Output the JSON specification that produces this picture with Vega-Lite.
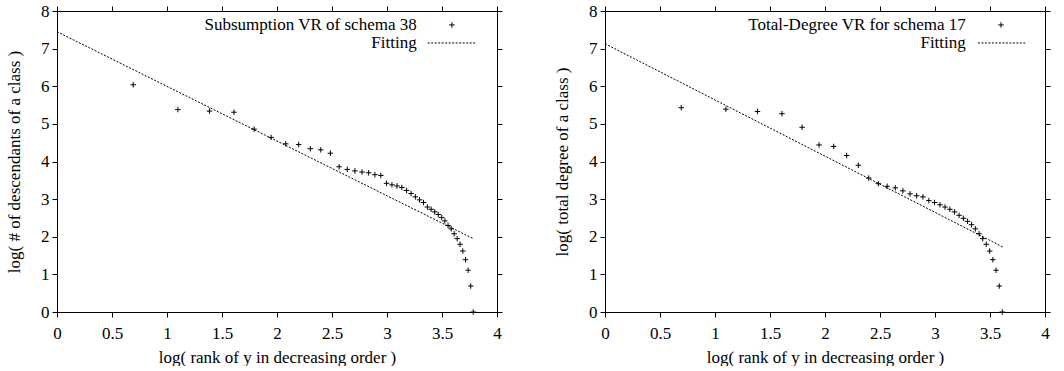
{
  "$schema": "https://vega.github.io/schema/vega-lite/v6.json",
  "padding": {"left": 5, "top": 1, "right": 0, "bottom": 0},
  "spacing": 50,
  "datasets": {
    "s38": [
      {"x": 0.693, "y": 6.04}, {"x": 1.099, "y": 5.38}, {"x": 1.386, "y": 5.34}, {"x": 1.609, "y": 5.31},
      {"x": 1.792, "y": 4.86}, {"x": 1.946, "y": 4.64}, {"x": 2.079, "y": 4.47}, {"x": 2.197, "y": 4.45},
      {"x": 2.303, "y": 4.34}, {"x": 2.398, "y": 4.31}, {"x": 2.485, "y": 4.22}, {"x": 2.565, "y": 3.86},
      {"x": 2.639, "y": 3.79}, {"x": 2.708, "y": 3.75}, {"x": 2.773, "y": 3.72}, {"x": 2.833, "y": 3.70},
      {"x": 2.890, "y": 3.65}, {"x": 2.944, "y": 3.63}, {"x": 2.996, "y": 3.42}, {"x": 3.045, "y": 3.38},
      {"x": 3.091, "y": 3.35}, {"x": 3.135, "y": 3.31}, {"x": 3.178, "y": 3.23}, {"x": 3.219, "y": 3.15},
      {"x": 3.258, "y": 3.06}, {"x": 3.296, "y": 2.98}, {"x": 3.332, "y": 2.91}, {"x": 3.367, "y": 2.79},
      {"x": 3.401, "y": 2.73}, {"x": 3.434, "y": 2.66}, {"x": 3.466, "y": 2.59}, {"x": 3.497, "y": 2.51},
      {"x": 3.526, "y": 2.42}, {"x": 3.555, "y": 2.30}, {"x": 3.584, "y": 2.21}, {"x": 3.611, "y": 2.08},
      {"x": 3.638, "y": 1.95}, {"x": 3.664, "y": 1.80}, {"x": 3.689, "y": 1.62}, {"x": 3.714, "y": 1.39},
      {"x": 3.738, "y": 1.11}, {"x": 3.761, "y": 0.69}, {"x": 3.784, "y": 0}
    ],
    "fit38": [{"x": 0, "y": 7.45}, {"x": 3.784, "y": 1.95}],
    "t17": [
      {"x": 0.693, "y": 5.43}, {"x": 1.099, "y": 5.39}, {"x": 1.386, "y": 5.33}, {"x": 1.609, "y": 5.27},
      {"x": 1.792, "y": 4.91}, {"x": 1.946, "y": 4.44}, {"x": 2.079, "y": 4.40}, {"x": 2.197, "y": 4.16},
      {"x": 2.303, "y": 3.90}, {"x": 2.398, "y": 3.56}, {"x": 2.485, "y": 3.41}, {"x": 2.565, "y": 3.34},
      {"x": 2.639, "y": 3.30}, {"x": 2.708, "y": 3.22}, {"x": 2.773, "y": 3.14}, {"x": 2.833, "y": 3.09},
      {"x": 2.890, "y": 3.06}, {"x": 2.944, "y": 2.96}, {"x": 2.996, "y": 2.91}, {"x": 3.045, "y": 2.85},
      {"x": 3.091, "y": 2.79}, {"x": 3.135, "y": 2.73}, {"x": 3.178, "y": 2.66}, {"x": 3.219, "y": 2.57},
      {"x": 3.258, "y": 2.49}, {"x": 3.296, "y": 2.41}, {"x": 3.332, "y": 2.32}, {"x": 3.367, "y": 2.21},
      {"x": 3.401, "y": 2.08}, {"x": 3.434, "y": 1.95}, {"x": 3.466, "y": 1.80}, {"x": 3.497, "y": 1.62},
      {"x": 3.526, "y": 1.39}, {"x": 3.555, "y": 1.11}, {"x": 3.584, "y": 0.69}, {"x": 3.611, "y": 0}
    ],
    "fit17": [{"x": 0, "y": 7.13}, {"x": 3.615, "y": 1.73}],
    "one": [{}]
  },
  "hconcat": [
    {
      "width": 440, "height": 301,
      "view": {"stroke": "black", "strokeWidth": 1},
      "layer": [
        {
          "data": {"name": "s38"},
          "mark": {"type": "point", "shape": "M-1,0L1,0M0,-1L0,1", "size": 30, "filled": false, "stroke": "black", "strokeWidth": 1, "opacity": 1},
          "encoding": {
            "x": {"field": "x", "type": "quantitative", "scale": {"domain": [0, 4], "nice": false},
                  "axis": {"values": [0, 0.5, 1, 1.5, 2, 2.5, 3, 3.5, 4], "format": "~g", "grid": false, "ticks": true, "tickSize": 5, "tickColor": "black", "domain": false, "labelFont": "Liberation Serif", "labelFontSize": 17, "labelColor": "black", "labelPadding": 8, "labelFlush": false,
                           "encode": {"ticks": {"enter": {"y2": {"value": -5}}, "update": {"y2": {"value": -5}}}},
                           "title": "log( rank of y in decreasing order )", "titleFont": "Liberation Serif", "titleFontSize": 17, "titleFontWeight": "normal", "titleColor": "black", "titlePadding": 8}},
            "y": {"field": "y", "type": "quantitative", "scale": {"domain": [0, 8], "nice": false},
                  "axis": {"values": [0, 1, 2, 3, 4, 5, 6, 7, 8], "format": "d", "grid": false, "ticks": true, "tickSize": 5, "tickColor": "black", "domain": false, "labelFont": "Liberation Serif", "labelFontSize": 17, "labelColor": "black", "labelPadding": 3, "labelFlush": false,
                           "encode": {"ticks": {"enter": {"x2": {"value": 5}}, "update": {"x2": {"value": 5}}}},
                           "title": "log( # of descendants of a class )", "titleFont": "Liberation Serif", "titleFontSize": 17, "titleFontWeight": "normal", "titleColor": "black", "titlePadding": 17}}
          }
        },
        {
          "data": {"name": "fit38"},
          "mark": {"type": "line", "stroke": "black", "strokeWidth": 1, "strokeDash": [2, 1.5]},
          "encoding": {
            "x": {"field": "x", "type": "quantitative",
                  "axis": {"orient": "top", "values": [0, 0.5, 1, 1.5, 2, 2.5, 3, 3.5, 4], "grid": false, "ticks": true, "tickSize": 5, "tickColor": "black", "labels": false, "domain": false, "title": null,
                           "encode": {"ticks": {"enter": {"y2": {"value": 5}}, "update": {"y2": {"value": 5}}}}}},
            "y": {"field": "y", "type": "quantitative",
                  "axis": {"orient": "right", "values": [0, 1, 2, 3, 4, 5, 6, 7, 8], "grid": false, "ticks": true, "tickSize": 5, "tickColor": "black", "labels": false, "domain": false, "title": null,
                           "encode": {"ticks": {"enter": {"x2": {"value": -5}}, "update": {"x2": {"value": -5}}}}}}
          }
        },
        {
          "data": {"name": "one"},
          "mark": {"type": "text", "align": "right", "baseline": "middle", "fontSize": 17, "font": "Liberation Serif", "color": "black"},
          "encoding": {"x": {"datum": 3.27, "type": "quantitative", "axis": null}, "y": {"datum": 7.63, "type": "quantitative", "axis": null}, "text": {"value": "Subsumption VR of schema 38"}}
        },
        {
          "data": {"name": "one"},
          "mark": {"type": "text", "align": "right", "baseline": "middle", "fontSize": 17, "font": "Liberation Serif", "color": "black"},
          "encoding": {"x": {"datum": 3.27, "type": "quantitative", "axis": null}, "y": {"datum": 7.15, "type": "quantitative", "axis": null}, "text": {"value": "Fitting"}}
        },
        {
          "data": {"name": "one"},
          "mark": {"type": "point", "shape": "M-1,0L1,0M0,-1L0,1", "size": 30, "filled": false, "stroke": "black", "strokeWidth": 1, "opacity": 1},
          "encoding": {"x": {"datum": 3.59, "type": "quantitative", "axis": null}, "y": {"datum": 7.63, "type": "quantitative", "axis": null}}
        },
        {
          "data": {"name": "one"},
          "mark": {"type": "rule", "stroke": "black", "strokeWidth": 1, "strokeDash": [2, 1.5]},
          "encoding": {"x": {"datum": 3.37, "type": "quantitative", "axis": null}, "x2": {"datum": 3.8}, "y": {"datum": 7.15, "type": "quantitative", "axis": null}}
        }
      ],
      "resolve": {"axis": {"x": "independent", "y": "independent"}}
    },
    {
      "width": 440, "height": 301,
      "view": {"stroke": "black", "strokeWidth": 1},
      "layer": [
        {
          "data": {"name": "t17"},
          "mark": {"type": "point", "shape": "M-1,0L1,0M0,-1L0,1", "size": 30, "filled": false, "stroke": "black", "strokeWidth": 1, "opacity": 1},
          "encoding": {
            "x": {"field": "x", "type": "quantitative", "scale": {"domain": [0, 4], "nice": false},
                  "axis": {"values": [0, 0.5, 1, 1.5, 2, 2.5, 3, 3.5, 4], "format": "~g", "grid": false, "ticks": true, "tickSize": 5, "tickColor": "black", "domain": false, "labelFont": "Liberation Serif", "labelFontSize": 17, "labelColor": "black", "labelPadding": 8, "labelFlush": false,
                           "encode": {"ticks": {"enter": {"y2": {"value": -5}}, "update": {"y2": {"value": -5}}}},
                           "title": "log( rank of y in decreasing order )", "titleFont": "Liberation Serif", "titleFontSize": 17, "titleFontWeight": "normal", "titleColor": "black", "titlePadding": 8}},
            "y": {"field": "y", "type": "quantitative", "scale": {"domain": [0, 8], "nice": false},
                  "axis": {"values": [0, 1, 2, 3, 4, 5, 6, 7, 8], "format": "d", "grid": false, "ticks": true, "tickSize": 5, "tickColor": "black", "domain": false, "labelFont": "Liberation Serif", "labelFontSize": 17, "labelColor": "black", "labelPadding": 3, "labelFlush": false,
                           "encode": {"ticks": {"enter": {"x2": {"value": 5}}, "update": {"x2": {"value": 5}}}},
                           "title": "log( total degree of a class )", "titleFont": "Liberation Serif", "titleFontSize": 17, "titleFontWeight": "normal", "titleColor": "black", "titlePadding": 17}}
          }
        },
        {
          "data": {"name": "fit17"},
          "mark": {"type": "line", "stroke": "black", "strokeWidth": 1, "strokeDash": [2, 1.5]},
          "encoding": {
            "x": {"field": "x", "type": "quantitative",
                  "axis": {"orient": "top", "values": [0, 0.5, 1, 1.5, 2, 2.5, 3, 3.5, 4], "grid": false, "ticks": true, "tickSize": 5, "tickColor": "black", "labels": false, "domain": false, "title": null,
                           "encode": {"ticks": {"enter": {"y2": {"value": 5}}, "update": {"y2": {"value": 5}}}}}},
            "y": {"field": "y", "type": "quantitative",
                  "axis": {"orient": "right", "values": [0, 1, 2, 3, 4, 5, 6, 7, 8], "grid": false, "ticks": true, "tickSize": 5, "tickColor": "black", "labels": false, "domain": false, "title": null,
                           "encode": {"ticks": {"enter": {"x2": {"value": -5}}, "update": {"x2": {"value": -5}}}}}}
          }
        },
        {
          "data": {"name": "one"},
          "mark": {"type": "text", "align": "right", "baseline": "middle", "fontSize": 17, "font": "Liberation Serif", "color": "black"},
          "encoding": {"x": {"datum": 3.28, "type": "quantitative", "axis": null}, "y": {"datum": 7.63, "type": "quantitative", "axis": null}, "text": {"value": "Total-Degree VR for schema 17"}}
        },
        {
          "data": {"name": "one"},
          "mark": {"type": "text", "align": "right", "baseline": "middle", "fontSize": 17, "font": "Liberation Serif", "color": "black"},
          "encoding": {"x": {"datum": 3.28, "type": "quantitative", "axis": null}, "y": {"datum": 7.15, "type": "quantitative", "axis": null}, "text": {"value": "Fitting"}}
        },
        {
          "data": {"name": "one"},
          "mark": {"type": "point", "shape": "M-1,0L1,0M0,-1L0,1", "size": 30, "filled": false, "stroke": "black", "strokeWidth": 1, "opacity": 1},
          "encoding": {"x": {"datum": 3.6, "type": "quantitative", "axis": null}, "y": {"datum": 7.63, "type": "quantitative", "axis": null}}
        },
        {
          "data": {"name": "one"},
          "mark": {"type": "rule", "stroke": "black", "strokeWidth": 1, "strokeDash": [2, 1.5]},
          "encoding": {"x": {"datum": 3.39, "type": "quantitative", "axis": null}, "x2": {"datum": 3.82}, "y": {"datum": 7.15, "type": "quantitative", "axis": null}}
        }
      ],
      "resolve": {"axis": {"x": "independent", "y": "independent"}}
    }
  ],
  "config": {
    "font": "Liberation Serif",
    "view": {"stroke": "black", "strokeWidth": 1},
    "axis": {"grid": false}
  }
}
